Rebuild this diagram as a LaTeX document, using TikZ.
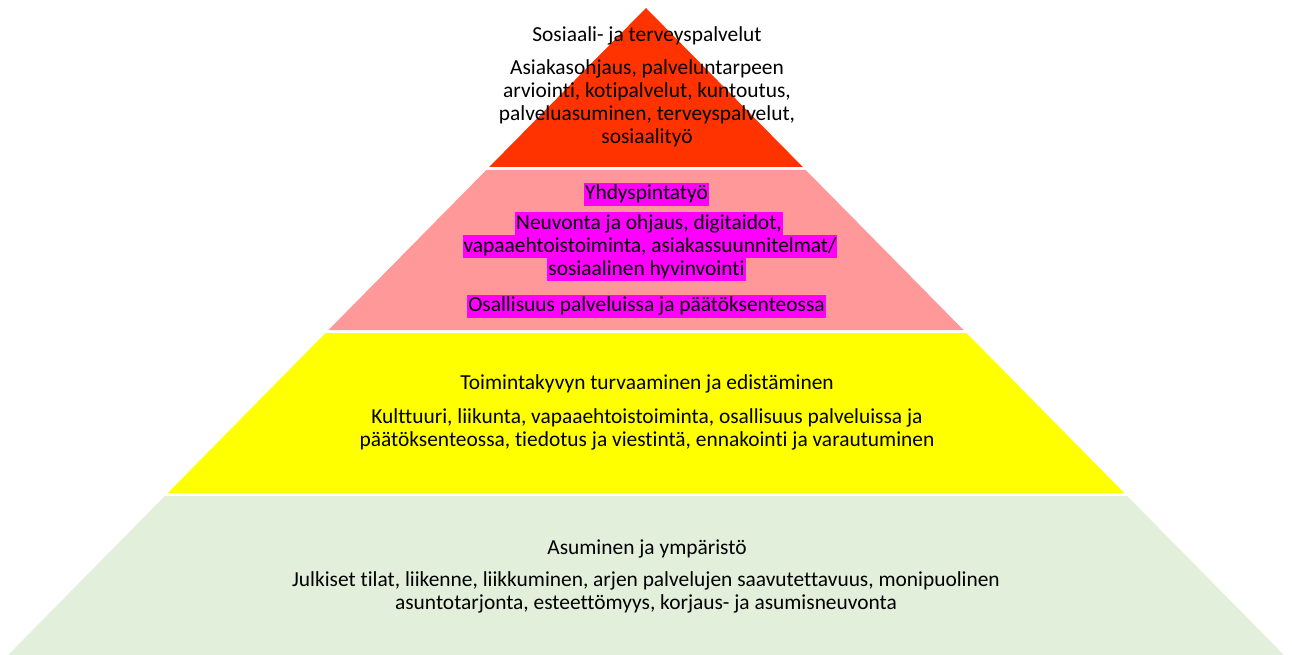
\documentclass[tikz,border=0pt]{standalone}
\usepackage{fontspec}
\setmainfont{Carlito}[Ligatures={NoCommon}]
\definecolor{lred}{HTML}{FF3300}
\definecolor{lpink}{HTML}{FF9999}
\definecolor{lyellow}{HTML}{FFFF00}
\definecolor{lgreen}{HTML}{E2EFDA}
\definecolor{hl}{HTML}{FF00FF}
\tikzset{
  txt/.style={align=center, font=\fontsize{21.4}{23}\selectfont, inner sep=0pt},
  hlbox/.style={fill=hl, font=\fontsize{21.4}{23}\selectfont, inner xsep=1pt, inner ysep=0pt, text height=17pt, text depth=6pt},
}
\begin{document}
\begin{tikzpicture}[x=1pt,y=-1pt]
\useasboundingbox (0,0) rectangle (1292,655);
% layers
\fill[lred] (646,8) -- (802.8,167) -- (489.2,167) -- cycle;
\fill[lpink] (486.3,170) -- (805.7,170) -- (963.5,330) -- (328.5,330) -- cycle;
\fill[lyellow] (325.5,333) -- (966.5,333) -- (1124.2,493) -- (167.8,493) -- cycle;
\fill[lgreen] (164.8,496) -- (1127.2,496) -- (1283.9,655) -- (8.1,655) -- cycle;
% red
\node[txt] (rt) at (647,36) {Sosiaali- ja terveyspalvelut};
\node[txt] (rb) at (647,103) {Asiakasohjaus, palveluntarpeen\\arviointi, kotipalvelut, kuntoutus,\\palveluasuminen, terveyspalvelut,\\sosiaalityö};
% pink
\node[hlbox] (pt) at (646.5,194.5) {Yhdyspintatyö};
\node[hlbox] (p1) at (649,223.5) {Neuvonta ja ohjaus, digitaidot, };
\node[hlbox] (p2) at (650,246.5) {vapaaehtoistoiminta, asiakassuunnitelmat/ };
\node[hlbox] (p3) at (646.5,269.5) {sosiaalinen hyvinvointi};
\node[hlbox] (p4) at (646.5,306) {Osallisuus palveluissa ja päätöksenteossa};
% yellow
\node[txt] (yt) at (647,384) {Toimintakyvyn turvaaminen ja edistäminen};
\node[txt] (yb) at (647,429) {Kulttuuri, liikunta, vapaaehtoistoiminta, osallisuus palveluissa ja\\päätöksenteossa, tiedotus ja viestintä, ennakointi ja varautuminen};
% green
\node[txt] (gt) at (647,549) {Asuminen ja ympäristö};
\node[txt] (gb) at (646,592) {Julkiset tilat, liikenne, liikkuminen, arjen palvelujen saavutettavuus, monipuolinen\\asuntotarjonta, esteettömyys, korjaus- ja asumisneuvonta};
\end{tikzpicture}
\end{document}
